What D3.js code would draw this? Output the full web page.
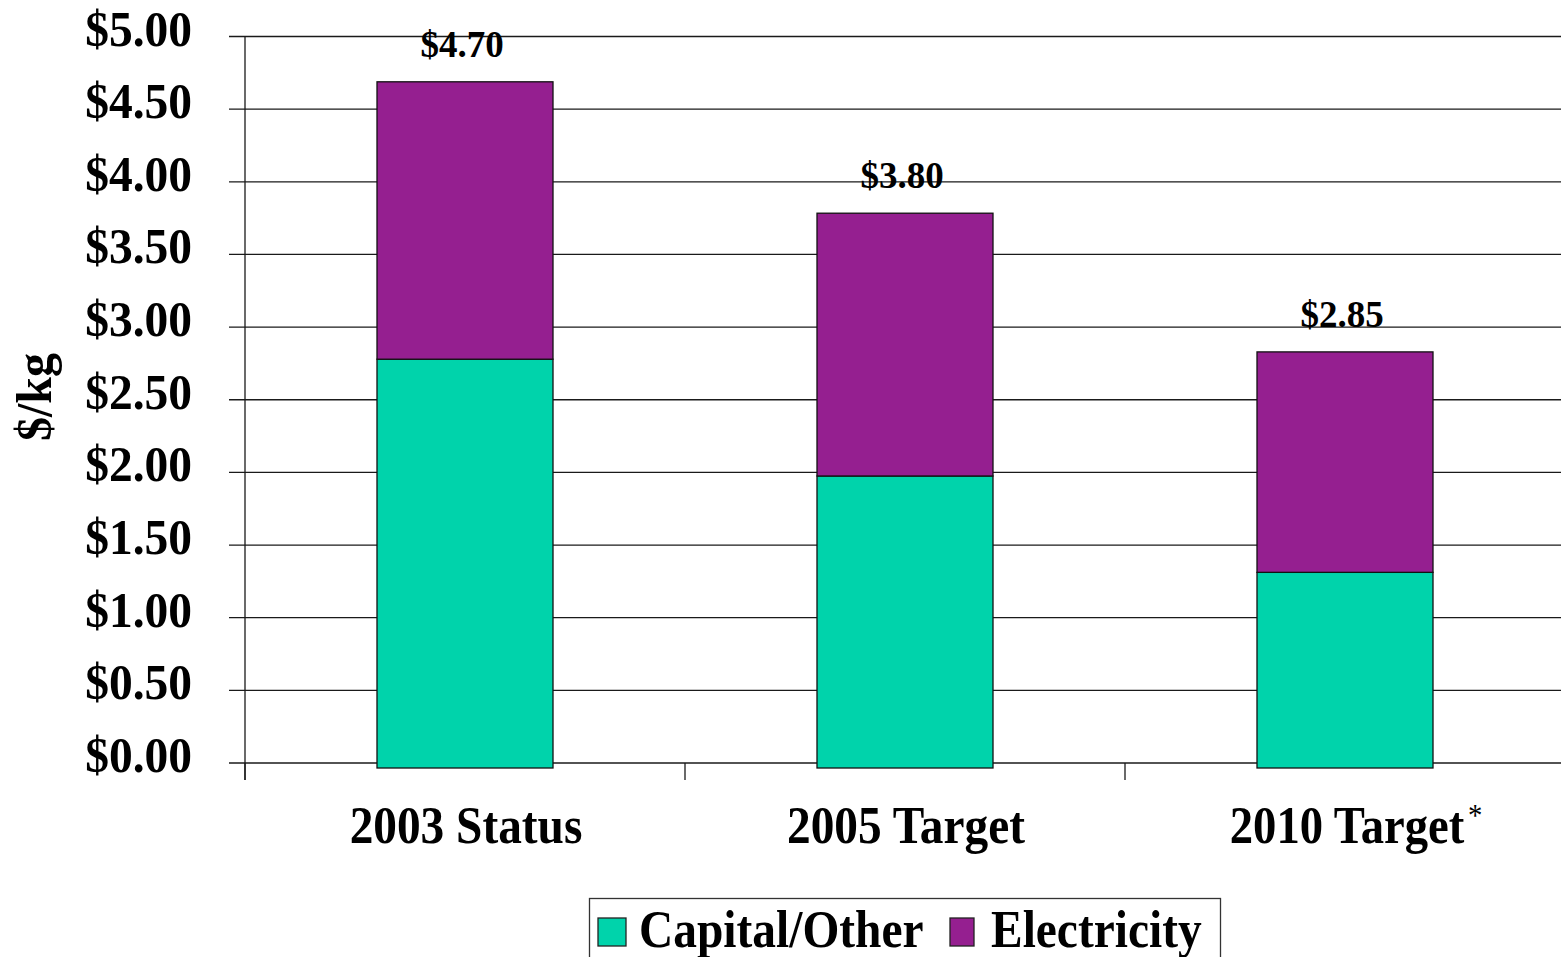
<!DOCTYPE html>
<html>
<head>
<meta charset="utf-8">
<script src="https://cdn.jsdelivr.net/npm/d3@7"></script>
<style>
  html, body { margin: 0; padding: 0; background: #fff; }
  svg { display: block; font-family: "Liberation Serif", "Times New Roman", serif; font-weight: bold; }
</style>
</head>
<body>
<div id="chart"></div>
<script>
// Chart data
const categories = ['2003 Status', '2005 Target', '2010 Target'];
const footnoteMark = ['', '', '*'];
const capitalOther = [2.80, 2.00, 1.34];
const electricity = [1.90, 1.80, 1.51];
const totalLabels = ['$4.70', '$3.80', '$2.85'];
const yTicks = [0, 0.5, 1, 1.5, 2, 2.5, 3, 3.5, 4, 4.5, 5];
const seriesNames = ['Capital/Other', 'Electricity'];
const colors = ['#00D3AB', '#951F90'];

const width = 1561;
const height = 957;

const svg = d3.select('#chart')
  .append('svg')
  .attr('width', width)
  .attr('height', height);

// squeeze text horizontally a little, like the original slide rendering
function condense(sel, factor) {
  sel.each(function () {
    const len = this.getComputedTextLength();
    d3.select(this)
      .attr('textLength', len * factor)
      .attr('lengthAdjust', 'spacingAndGlyphs');
  });
}

// Scales
const x = d3.scaleBand()
  .domain(categories)
  .range([245, 1565])
  .paddingInner(0.6)
  .paddingOuter(0.3);

const y = d3.scaleLinear()
  .domain([0, 5])
  .range([763, 36.5]);

// the bars sit a touch lower than the gridlines in the original
const yBar = y.copy().range([768, 38]);

// Gridlines + left ticks
svg.append('g')
  .selectAll('line')
  .data(yTicks)
  .enter()
  .append('line')
  .attr('x1', 229)
  .attr('x2', width)
  .attr('y1', d => y(d))
  .attr('y2', d => y(d))
  .attr('stroke', '#1a1a1a')
  .attr('stroke-width', 1.3);

// Y tick labels
svg.append('g')
  .selectAll('text')
  .data(yTicks)
  .enter()
  .append('text')
  .attr('x', 192)
  .attr('y', d => y(d) + 9)
  .attr('text-anchor', 'end')
  .style('font-size', '50px')
  .text(d => '$' + d.toFixed(2))
  .call(condense, 0.95);

// Y axis title
svg.append('text')
  .attr('transform', 'translate(51,397) rotate(-90)')
  .attr('text-anchor', 'middle')
  .style('font-size', '50px')
  .text('$/kg')
  .call(condense, 0.96);

// Stacked bars
const stackData = categories.map((c, i) => ({ cat: c, capital: capitalOther[i], electricity: electricity[i] }));
const stack = d3.stack().keys(['capital', 'electricity'])(stackData);

svg.append('g')
  .selectAll('g')
  .data(stack)
  .enter()
  .append('g')
  .attr('fill', (d, i) => colors[i])
  .selectAll('rect')
  .data(d => d)
  .enter()
  .append('rect')
  .attr('x', d => x(d.data.cat))
  .attr('width', x.bandwidth())
  .attr('y', d => yBar(d[1]))
  .attr('height', d => yBar(d[0]) - yBar(d[1]))
  .attr('stroke', '#111')
  .attr('stroke-width', 1.3);

// Left axis line
svg.append('line')
  .attr('x1', 245)
  .attr('x2', 245)
  .attr('y1', y(5))
  .attr('y2', 780)
  .attr('stroke', '#1a1a1a')
  .attr('stroke-width', 1.3);

// Category boundary ticks
const boundaries = categories.map(c => x(c) - x.step() * x.paddingOuter());
svg.append('g')
  .selectAll('line')
  .data(boundaries)
  .enter()
  .append('line')
  .attr('x1', d => d)
  .attr('x2', d => d)
  .attr('y1', y(0))
  .attr('y2', 780)
  .attr('stroke', '#1a1a1a')
  .attr('stroke-width', 1.3);

// Total labels above bars
svg.append('g')
  .selectAll('text')
  .data(categories)
  .enter()
  .append('text')
  .attr('x', d => x(d) + x.bandwidth() / 2 - 3)
  .attr('y', (d, i) => yBar(capitalOther[i] + electricity[i]) - 25)
  .attr('text-anchor', 'middle')
  .style('font-size', '37px')
  .text((d, i) => totalLabels[i]);

// Category labels (footnote mark kept in the same text as a raised tspan)
svg.append('g')
  .selectAll('text')
  .data(categories)
  .enter()
  .append('text')
  .attr('y', 843)
  .attr('text-anchor', 'middle')
  .style('font-size', '52px')
  .each(function (d, i) {
    const t = d3.select(this);
    t.append('tspan').text(d);
    let starW = 0;
    if (footnoteMark[i]) {
      const star = t.append('tspan')
        .attr('dx', 4)
        .attr('dy', -17)
        .style('font-size', '32px')
        .style('font-weight', 'normal')
        .text(footnoteMark[i]);
      starW = star.node().getComputedTextLength() + 4;
    }
    t.attr('x', x(d) + x.bandwidth() / 2 + 1 + starW / 2);
  })
  .call(condense, 0.91);

// Legend
const legend = svg.append('g');
legend.append('rect')
  .attr('x', 589.5)
  .attr('y', 898.5)
  .attr('width', 631)
  .attr('height', 80)
  .attr('fill', '#fff')
  .attr('stroke', '#333')
  .attr('stroke-width', 1.3);

const legendX = [598, 950];
seriesNames.forEach((name, i) => {
  legend.append('rect')
    .attr('x', legendX[i])
    .attr('y', 918)
    .attr('width', i === 0 ? 28 : 24)
    .attr('height', 28)
    .attr('fill', colors[i])
    .attr('stroke', '#222')
    .attr('stroke-width', 1.3);
  legend.append('text')
    .attr('x', legendX[i] + 41)
    .attr('y', 947)
    .style('font-size', '53px')
    .text(name)
    .call(condense, 0.895);
});
</script>
</body>
</html>
